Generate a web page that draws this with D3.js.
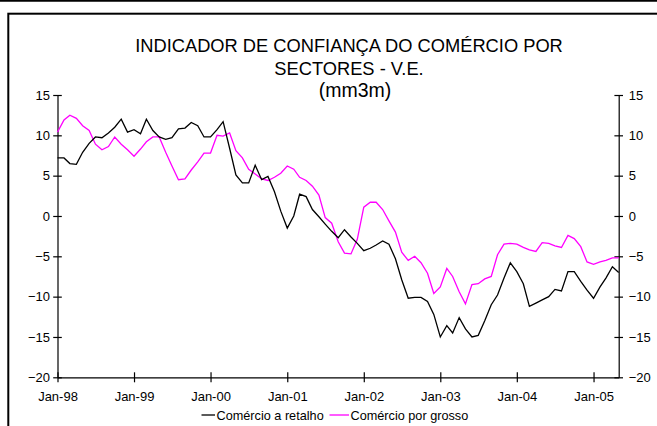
<!DOCTYPE html>
<html>
<head>
<meta charset="utf-8">
<script src="https://cdn.jsdelivr.net/npm/d3@7"></script>
<style>
  body { margin: 0; background: #fff; }
  svg { display: block; font-family: "Liberation Sans", Arial, sans-serif; }
</style>
</head>
<body>
<div id="chart"></div>
<script>
// Chart size
const width = 657;
const height = 426;

// Months Jan-98 .. May-05
const months = d3.timeMonth.range(new Date(1998, 0, 1), new Date(2005, 5, 1));

// Comércio a retalho (mm3m)
const retalho = [
  7.2, 7.2, 6.5, 6.4, 7.9, 9.0, 9.8, 9.7, 10.3, 11.0, 12.0, 10.4,
  10.7, 10.2, 12.0, 10.6, 9.8, 9.5, 9.7, 10.8, 10.9, 11.6, 11.2, 9.8,
  9.8, 10.7, 11.7, 8.4, 5.1, 4.1, 4.1, 6.3, 4.5, 4.9, 3.0, 0.6,
  -1.5, 0.0, 2.7, 2.4, 0.8, -0.1, -1.0, -1.9, -2.7, -1.7, -2.6, -3.4,
  -4.3, -4.0, -3.6, -3.1, -3.5, -5.3, -7.9, -10.2, -10.1, -10.1, -10.6, -12.2,
  -15.0, -13.6, -14.5, -12.6, -14.0, -15.0, -14.8, -13.0, -11.0, -9.8, -7.7, -5.8,
  -6.9, -8.4, -11.2, -10.8, -10.4, -10.0, -9.1, -9.3, -6.9, -6.9, -8.1, -9.2,
  -10.2, -8.8, -7.7, -6.3, -7.0
];

// Comércio por grosso (mm3m)
const grosso = [
  10.4, 11.9, 12.5, 12.1, 11.2, 10.6, 8.9, 8.2, 8.6, 9.8, 8.9, 8.2,
  7.4, 8.3, 9.2, 9.8, 9.8, 7.9, 6.2, 4.5, 4.6, 5.7, 6.7, 7.8,
  7.8, 10.0, 9.9, 10.3, 8.1, 7.2, 5.8, 5.2, 4.6, 4.4, 4.8, 5.3,
  6.2, 5.8, 4.8, 4.4, 3.7, 2.6, -0.2, -0.9, -3.2, -4.6, -4.7, -2.9,
  1.1, 1.7, 1.7, 0.8, -0.6, -2.0, -4.5, -5.5, -5.0, -5.8, -7.1, -9.6,
  -8.8, -6.5, -7.5, -9.4, -10.9, -8.5, -8.4, -7.8, -7.5, -4.8, -3.5, -3.4,
  -3.5, -3.9, -4.2, -4.4, -3.3, -3.4, -3.7, -3.9, -2.4, -2.8, -3.8, -5.7,
  -6.0, -5.7, -5.5, -5.2, -5.2
];

const yTicks = [15, 10, 5, 0, -5, -10, -15, -20];
const titleLines = ["INDICADOR DE CONFIANÇA DO COMÉRCIO POR", "SECTORES - V.E.", "(mm3m)"];
const seriesNames = ["Comércio a retalho", "Comércio por grosso"];
const colors = ["#000000", "#ff00ff"];

const svg = d3.select("#chart").append("svg")
  .attr("width", width)
  .attr("height", height);

// Outer borders
svg.append("line")
  .attr("x1", 0).attr("x2", width)
  .attr("y1", 0.8).attr("y2", 0.8)
  .attr("stroke", "#000").attr("stroke-width", 1.8);

svg.append("rect")
  .attr("x", 8.3).attr("y", 13.7)
  .attr("width", 700).attr("height", 500)
  .attr("fill", "none")
  .attr("stroke", "#000").attr("stroke-width", 2);

// Scales
const x = d3.scaleTime()
  .domain([months[0], months[months.length - 1]])
  .range([57.5, 618.7]);

const y = d3.scaleLinear()
  .domain([-20, 15])
  .range([377.3, 95]);

// Title
const title = svg.append("g")
  .attr("text-anchor", "middle")
  .attr("fill", "#000");
title.append("text").attr("x", 349).attr("y", 51.5)
  .attr("font-size", "18.3px").text(titleLines[0]);
title.append("text").attr("x", 349).attr("y", 74.5)
  .attr("font-size", "18.3px").text(titleLines[1]);
title.append("text").attr("x", 355).attr("y", 96.7)
  .attr("font-size", "19.5px").text(titleLines[2]);

// Axes
function crossTicks(g, dir) {
  g.select(".domain").attr("stroke", "#000").attr("stroke-width", 1.2);
  g.selectAll(".tick line").attr("stroke", "#000").attr("stroke-width", 1.2);
  if (dir === "y") g.selectAll(".tick line").attr("x1", -4.3).attr("x2", 4.3);
  else g.selectAll(".tick line").attr("y1", -5).attr("y2", 5);
  g.selectAll(".tick text").attr("fill", "#000").attr("font-size", "13px");
}

svg.append("g")
  .attr("transform", "translate(57.5,0)")
  .call(d3.axisLeft(y).tickValues(yTicks).tickSizeOuter(0).tickSizeInner(4).tickPadding(3.5))
  .call(g => crossTicks(g, "y"))
  .call(g => g.attr("font-family", null));

svg.append("g")
  .attr("transform", "translate(618.7,0)")
  .call(d3.axisRight(y).tickValues(yTicks).tickSizeOuter(0).tickSizeInner(4).tickPadding(6))
  .call(g => crossTicks(g, "y"))
  .call(g => g.attr("font-family", null));

svg.append("g")
  .attr("transform", "translate(0,377.3)")
  .call(d3.axisBottom(x)
    .ticks(d3.timeYear.every(1))
    .tickFormat(d3.timeFormat("%b-%y"))
    .tickSizeOuter(0).tickSizeInner(5).tickPadding(9))
  .call(g => crossTicks(g, "x"))
  .call(g => g.attr("font-family", null));

// Lines
const line = d3.line()
  .x((d, i) => x(months[i]))
  .y(d => y(d));

svg.append("path")
  .datum(grosso)
  .attr("fill", "none")
  .attr("stroke", colors[1])
  .attr("stroke-width", 1.3)
  .attr("d", line);

svg.append("path")
  .datum(retalho)
  .attr("fill", "none")
  .attr("stroke", colors[0])
  .attr("stroke-width", 1.3)
  .attr("d", line);

// Legend
const legendItems = [
  {name: seriesNames[0], color: colors[0], x0: 201.5, x1: 215, tx: 216.5},
  {name: seriesNames[1], color: colors[1], x0: 329.5, x1: 349, tx: 350.5}
];
const legend = svg.append("g");
legendItems.forEach(d => {
  legend.append("line")
    .attr("x1", d.x0).attr("x2", d.x1)
    .attr("y1", 415).attr("y2", 415)
    .attr("stroke", d.color).attr("stroke-width", 1.3);
  legend.append("text")
    .attr("x", d.tx).attr("y", 419.5)
    .attr("font-size", "12.7px")
    .attr("fill", "#000")
    .text(d.name);
});
</script>
</body>
</html>
